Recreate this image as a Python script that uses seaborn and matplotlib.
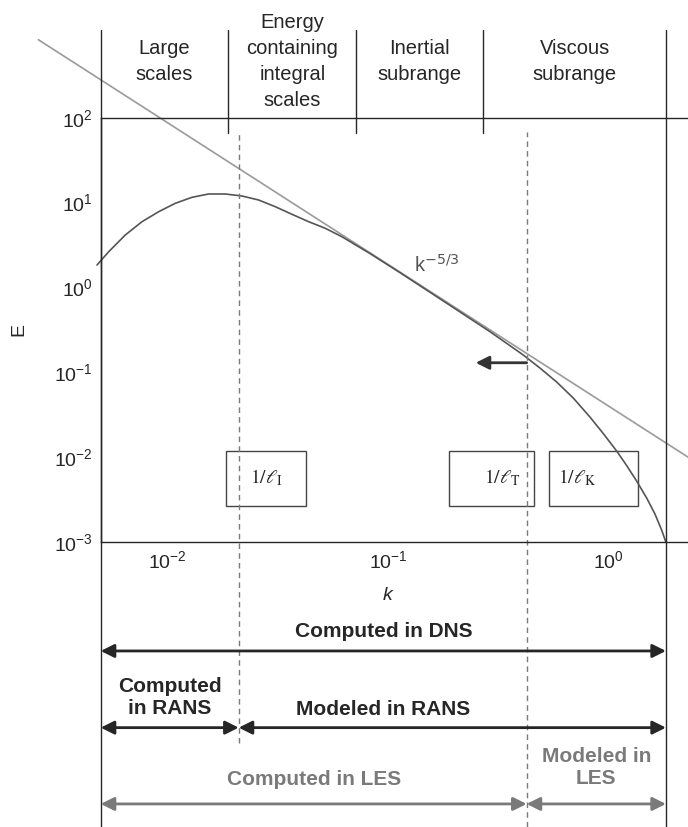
import matplotlib
matplotlib.use("Agg")
import matplotlib.pyplot as plt
from matplotlib.patches import Rectangle
import seaborn as sns

# энергетический спектр E(k), точки
k_curve = [0.004776, 0.005399, 0.006420, 0.007643, 0.009101, 0.010826, 0.012892,
           0.015350, 0.018260, 0.021745, 0.025882, 0.030796, 0.036655, 0.043652,
           0.051927, 0.061829, 0.08287, 0.1134, 0.1911, 0.2904, 0.3580, 0.4114,
           0.4898, 0.5833, 0.6937, 0.8259, 0.9490, 1.0917, 1.2120, 1.3457,
           1.4941, 1.6293, 1.7474, 1.827]
E_curve = [1.841, 2.641, 4.153, 5.957, 7.812, 9.813, 11.54,
           12.63, 12.63, 11.96, 10.73, 8.948, 7.281, 5.957,
           4.982, 3.96, 2.512, 1.496, 0.617, 0.302, 0.2065, 0.1603,
           0.1126, 0.07705, 0.04994, 0.02983, 0.01907, 0.01187, 0.008004, 0.005257,
           0.003316, 0.002149, 0.001392, 0.001]

# прямая k^-5/3
k_line = [0.002588, 2.30]
E_line = [828.0, 0.01007]

# границы областей и подписи
region_bounds = [0.004966, 0.01884, 0.0718, 0.2708, 1.827]
region_names = ["Large\nscales", "Energy\ncontaining\nintegral\nscales",
                "Inertial\nsubrange", "Viscous\nsubrange"]
k_left, k_I, k_T, k_K = 0.004966, 0.0210, 0.426, 1.827

dark = "#262626"
gray = "#7a7a7a"

sns.set_theme(style="white")
plt.rcParams["font.family"] = ["Liberation Sans", "DejaVu Sans"]

fig = plt.figure(figsize=(6.88, 8.27), dpi=100)
ax = fig.add_axes([0.1464, 0.3443, 0.8536, 0.5134])
ax.set_xscale("log")
ax.set_yscale("log")

sns.lineplot(x=k_line, y=E_line, ax=ax, color="#9a9a9a", linewidth=1.2, clip_on=False)
sns.lineplot(x=k_curve, y=E_curve, ax=ax, color="#555555", linewidth=1.2, clip_on=False)

ax.set_xlim(0.004966, 2.301)
ax.set_ylim(1e-3, 1e2)
ax.set_xticks([1e-2, 1e-1, 1e0])
ax.set_yticks([1e-3, 1e-2, 1e-1, 1e0, 1e1, 1e2])
ax.minorticks_off()
ax.tick_params(axis="both", direction="in", length=10, width=1, color=dark,
               labelsize=14, labelcolor=dark, pad=6)
for s in ["top", "bottom", "left"]:
    ax.spines[s].set_color(dark)
    ax.spines[s].set_linewidth(1)
ax.spines["right"].set_visible(False)

ax.set_xlabel("k", fontsize=14, style="italic", color=dark)
ax.set_ylabel("E", fontsize=14, color=dark)
ax.xaxis.set_label_coords(0.489, -0.105)
ax.yaxis.set_label_coords(-0.125, 0.5)

# вертикальные линии
for kb in [k_left, k_K]:
    ax.axvline(kb, ymin=-0.67, ymax=1.2066, color=dark, lw=1, clip_on=False)
for kb in region_bounds[1:-1]:
    ax.axvline(kb, ymin=0.964, ymax=1.2066, color=dark, lw=1, clip_on=False)
ax.axvline(k_I, ymin=-0.4727, ymax=0.967, color=gray, lw=1, ls=(0, (4, 3)), clip_on=False)
ax.axvline(k_T, ymin=-0.67, ymax=0.967, color=gray, lw=1, ls=(0, (4, 3)), clip_on=False)

tr = ax.get_xaxis_transform()
for i, name in enumerate(region_names):
    xc = (region_bounds[i] * region_bounds[i + 1]) ** 0.5
    ax.text(xc, 1.1325, name, transform=tr, ha="center", va="center",
            fontsize=14.5, color=dark, linespacing=1.45, clip_on=False)

# подпись k^-5/3
ax.text(0.1312, 1.523, r"k$^{-5/3}$", fontsize=14.5, color="#555555", va="baseline")

# стрелка у 1/l_T
ax.annotate("", xy=(0.2501, 0.130), xytext=(k_T, 0.130),
            arrowprops=dict(arrowstyle="-|>", color="#333333", lw=2,
                            mutation_scale=20, shrinkA=0, shrinkB=0))

# рамки с масштабами
boxes = [(0.01839, 0.04244), (0.1898, 0.4614), (0.5397, 1.364)]
for x0, x1 in boxes:
    ax.add_patch(Rectangle((x0, 0.002667), x1 - x0, 0.01197 - 0.002667,
                           fill=False, edgecolor="#444444", lw=1))
ax.text(0.02793, 0.0057, r"$1/\ell_{\mathrm{I}}$", ha="center", va="center",
        fontsize=14, color=dark, math_fontfamily="stix")
ax.text(0.4016, 0.0057, r"$1/\ell_{\mathrm{T}}$", ha="right", va="center",
        fontsize=14, color=dark, math_fontfamily="stix")
ax.text(0.591, 0.0057, r"$1/\ell_{\mathrm{K}}$", ha="left", va="center",
        fontsize=14, color=dark, math_fontfamily="stix")

# диапазоны методов
ranges = [
    ("Computed in DNS", k_left, k_K, -0.256, (k_left * k_K) ** 0.5, -0.2113, dark),
    ("Computed\nin RANS", k_left, k_I, -0.4366, (k_left * k_I) ** 0.5, -0.3655, dark),
    ("Modeled in RANS", k_I, k_K, -0.4366, (k_left * k_K) ** 0.5, -0.395, dark),
    ("Computed in LES", k_left, k_T, -0.6163, (k_left * k_T) ** 0.5, -0.5594, gray),
    ("Modeled in\nLES", k_T, k_K, -0.6163, (k_T * k_K) ** 0.5, -0.5304, gray),
]
for label, k0, k1, ya, xt, yt, c in ranges:
    ax.annotate("", xy=(k1, ya), xytext=(k0, ya), xycoords=tr, textcoords=tr,
                arrowprops=dict(arrowstyle="<|-|>", color=c, lw=2,
                                mutation_scale=20, shrinkA=0, shrinkB=0),
                annotation_clip=False)
    ax.text(xt, yt, label, transform=tr, ha="center", va="center", fontsize=15,
            fontweight="bold", color=c, linespacing=1.25, clip_on=False)

fig.savefig("out.png", dpi=100)
